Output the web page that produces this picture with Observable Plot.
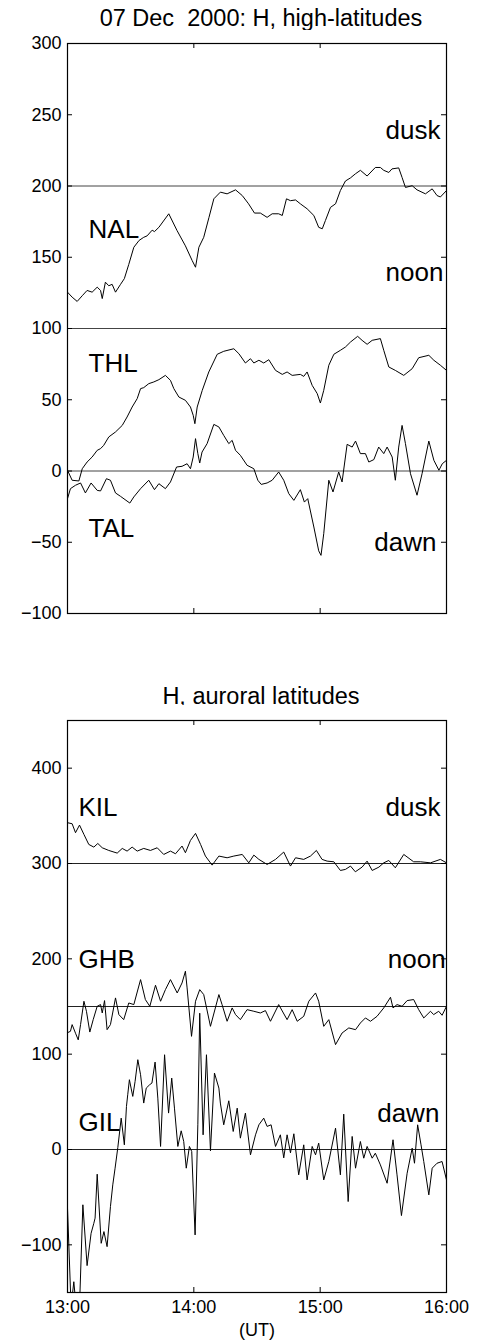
<!DOCTYPE html>
<html><head><meta charset="utf-8">
<script src="https://cdn.jsdelivr.net/npm/d3@7"></script>
<script src="https://cdn.jsdelivr.net/npm/@observablehq/plot@0.6"></script>
<style>
body{margin:0;background:#fff;font-family:"Liberation Sans",Arial,sans-serif;}
#wrap{position:relative;width:477px;height:1341px;overflow:hidden;}
.title{position:absolute;left:0;width:477px;box-sizing:border-box;padding-left:45px;text-align:center;font-size:23.5px;line-height:24px;white-space:pre;color:#000;}
.panel{position:absolute;left:0;}
</style></head><body>
<div id="wrap">
<div class="title" style="top:6px">07 Dec  2000: H, high-latitudes</div>
<div class="panel" id="p1" style="top:30px"></div>
<div class="title" style="top:684px">H, auroral latitudes</div>
<div class="panel" id="p2" style="top:705px"></div>
</div>
<script>
// time in minutes after 13:00 UT, H values (nT, offset)
const xTicks = [0, 60, 120, 180];
const xTickLabels = ["13:00", "14:00", "15:00", "16:00"];
const ticksTop = [-100, -50, 0, 50, 100, 150, 200, 250, 300];
const ticksBottom = [-100, 0, 100, 200, 300, 400];
const baselinesTop = [200, 100, 0];
const baselinesBottom = [300, 150, 0];

const NAL = [[0,125.5],[2.2,122],[4.6,119],[7,123],[9.3,126.7],[11.7,125.5],[14.1,129],[15.7,126.7],[16.5,121],[18,132.5],[19.6,130],[21.2,131],[22.8,125.5],[25.2,131],[27,135],[29.1,145],[31.5,157],[34,161.8],[36.2,164],[37.8,165],[40.2,169],[41.3,168],[43.4,171],[48.1,180.5],[52,168.8],[56,158],[59.2,147.7],[60.8,143],[62.4,157],[64.7,164],[67.2,178],[69.5,191],[72.6,195.7],[75.8,194.5],[79.8,197.3],[83,193.3],[86,187.5],[88.8,181],[91.6,181],[94.8,178],[97.2,180.5],[100.3,180.5],[102,179.3],[104,191],[105.9,189.7],[108.3,190.2],[110.6,187.5],[113.8,184],[117,179.3],[119.3,171],[121,170],[122.5,175.8],[124.9,185],[127.3,187.5],[129.6,196.8],[132,203.5],[134.4,205.7],[136.7,208.5],[139.1,211],[142.3,207],[146.2,213],[148.6,213],[150.2,211],[152.6,209.5],[154.1,212],[157.3,212.7],[158.9,206],[160.5,199],[163.7,200.2],[166,197.3],[170,194.5],[173.2,198],[175.5,193.3],[177.1,192.3],[180,196.8]];

const THL = [[0,0.5],[2.2,-6.5],[5.4,-7],[7,1.6],[9.3,6.3],[11.7,9.8],[14.1,14.5],[15.7,15.7],[17.2,18],[19.6,23.9],[22.8,27.4],[26,32],[28.3,37.9],[30.7,44.9],[33.1,50.8],[34.7,57.8],[36.2,58.5],[38.6,61.3],[41,62.5],[43.4,64.1],[46.5,67.1],[48.9,63.6],[50.5,57.8],[52.9,51.9],[56,49.6],[58.4,44.9],[59.7,39.1],[60.5,33.2],[61.6,44.9],[64,56.6],[67.1,69.5],[71.1,81.9],[74.2,84],[79,85.8],[81.4,82.3],[84.5,75.8],[86.9,78.8],[88.5,75.8],[90.9,77.7],[93.2,75.8],[95.6,78.1],[98.8,70.6],[102,67.8],[104.3,69.5],[106.7,67.1],[110.6,67.8],[112.2,66.4],[113.8,69.5],[116.2,60.1],[118.6,54.3],[120.1,47.7],[121.7,56.6],[124.1,74.2],[126.5,81.9],[129.6,84.7],[132,87],[134.4,90.5],[137.8,94.5],[139.9,91.7],[142.3,88.9],[144.7,91.7],[148.6,92.9],[150.2,84.7],[152.6,73],[155.7,70.6],[159.7,67.1],[163.7,71.8],[166.8,79.5],[171.6,81.2],[174,77.7],[177.1,74.2],[180,70.6]];

const TAL = [[0,-19.4],[1.4,-12.4],[3.8,-10],[6.2,-8.4],[8.5,-15.4],[11.2,-8.4],[14.1,-13.6],[15.7,-14],[18.5,-5.4],[20.4,-6.5],[22.8,-15.4],[25.2,-17.8],[29.6,-22.5],[31.5,-18.2],[34.7,-12.4],[38.6,-6.5],[41.3,-13.1],[43.4,-8.9],[46.5,-12.4],[48.9,-7.7],[51.8,2.8],[54.4,3.3],[56.8,5.1],[58.4,1.6],[59.7,9.8],[60.8,22.7],[61.9,12.2],[62.8,5.6],[63.9,13.3],[66.3,19.2],[69.5,32.7],[71.9,30.9],[74.2,25],[76.6,19.2],[78.2,21.5],[79.8,14.5],[82.1,11],[85.3,4],[88.5,1.6],[90.4,-6.5],[92,-9.4],[94.8,-8.4],[97.2,-6.5],[100.3,-0.7],[102.7,-6.5],[105.1,-15.9],[107.5,-20.6],[110.6,-13.1],[112.5,-21.8],[114.1,-19.4],[117,-39.3],[119.3,-56],[120.4,-59.2],[121.7,-44],[124.1,-6.5],[126.1,-14.7],[128.8,-0.7],[130.4,-7.7],[132.8,18.7],[135.2,16.8],[136.8,21],[139.1,12.2],[141.5,12.2],[143.1,6.3],[145.5,8],[147.8,16.8],[150.2,12.2],[151.8,16.8],[154.2,9.8],[155.7,-6.5],[157.3,16.8],[158.9,32],[160.5,19.2],[162.9,-1.9],[166,-17],[168.4,-1.9],[171.6,21],[174,7.5],[176.4,0.5],[178,5.1],[180,7.5]];

const KIL = [[0,342.8],[2.2,341.7],[3.8,332.3],[5.7,340.3],[7.8,330.5],[10.1,320],[12.5,317.2],[14.4,321],[16.5,316.5],[19.6,313.7],[23.6,310.9],[26,315.8],[28.3,313],[30.7,317.2],[33.1,313],[36.2,315.8],[39.4,313.7],[42.6,316.5],[45.7,309.5],[48.9,313],[51.3,310.2],[54.4,318.3],[56,311.3],[58.4,324.2],[60.8,331.6],[63.2,320],[65.5,307.8],[68.7,298.3],[71.9,307.8],[75.8,306],[79,307.8],[83,309.5],[86.1,300.7],[88.5,308.8],[90.9,304.3],[94.8,299],[98.8,304.3],[102.7,312],[105.9,297.3],[108.3,306],[112.2,304.3],[115.4,307.8],[118.2,313.7],[120.9,304.3],[123.3,302.5],[126.5,301.8],[129.6,292.7],[132,293.8],[134.4,297.3],[136.7,291.3],[139.9,296.2],[142.3,302.5],[144.7,292.7],[147.9,296.2],[150.2,300.7],[152.6,303.2],[155.7,295.5],[159.7,309.5],[164.4,301.8],[167.6,301.8],[172.4,300.7],[177.1,304.3],[180,300.7]];

const GHB = [[0,122.5],[1.4,124],[2.2,131],[3.8,122],[5.1,115],[6.2,131],[7.8,155.5],[9,145],[10.6,123.2],[12.2,136.2],[14.1,150.2],[15.7,152],[16.5,143.2],[17.6,156.2],[18.8,125.7],[20.4,131],[22.8,159],[24.4,141.5],[26.7,136.2],[29.1,153.7],[31.5,152],[34.7,178.2],[37,157.2],[39.1,150.2],[41.8,172.3],[44.2,155.5],[46.5,167.7],[48.9,178.2],[52.1,164.2],[54.4,174.7],[56,187],[56.8,169.5],[58.9,118.7],[60.8,155.5],[62.8,167.7],[64.7,162.5],[67.9,129.2],[71.9,162.5],[73.4,152],[75.8,134.5],[78.2,148.5],[79.8,141.5],[82.1,136.2],[85.3,146.7],[88.5,145],[91.6,143.2],[94,145.7],[96.4,134.5],[100.3,152],[104.3,136.2],[106.7,146.7],[109.1,134.5],[112.2,139.7],[114.6,155.5],[117.8,164.2],[119.3,155.5],[121.7,129.2],[124.1,136.2],[127.3,110],[130.4,122.2],[133.6,127.5],[136.8,125.7],[139.1,132.7],[141.5,138],[143.9,134.5],[147,139.7],[150.2,148.5],[153.4,159.7],[154.6,148.5],[156.5,152],[158.9,150.2],[161.3,156.2],[164.4,157.3],[166.8,146.7],[169.2,138],[172.4,145],[173.9,141.5],[176.3,145],[177.9,140.8],[180,150.2]];

const GIL = [[0,-61.6],[1.7,-165],[3,-138.7],[4.1,-165],[5.7,-165],[7.3,-58],[9.3,-121.8],[11.2,-87.9],[12.5,-77.4],[13.1,-72],[14.1,-25.9],[16,-98.4],[17.3,-86.1],[18.8,-101.9],[20.4,-59.9],[21.5,-37.1],[22.6,-19.6],[23.9,2.1],[25.5,32.9],[27,4.9],[28,45.2],[28.6,57.4],[29.4,73.2],[30.2,64.4],[31,55.7],[32.1,71.4],[33.4,94.2],[34.7,78.4],[36.2,48.7],[37.4,64.4],[39,67.9],[40.1,69.7],[41.6,91.7],[42.9,53.9],[44.2,3.2],[46.1,99.4],[48,38.2],[49.5,74.9],[50.8,43.4],[52.4,3.2],[54,19.6],[55.2,8.4],[56.4,-19.6],[57.9,3.2],[59,-2.1],[60.6,-89.6],[61.9,25.9],[62.8,143],[64.4,15.4],[66,99.4],[67.9,-1.4],[69.8,80.2],[71.9,64.4],[72.6,48.7],[74.2,25.9],[76.6,51.1],[78.7,18.9],[80.6,43.4],[82.1,11.9],[84.5,38.2],[86.9,-5.6],[89.3,15.4],[90.9,25.9],[93.2,32.9],[94.8,24.2],[96.7,25.9],[98.8,3.2],[101.1,15.4],[102.7,-8.8],[104.3,15.4],[105.9,-3.5],[107.5,16.5],[109.8,-26.6],[112.2,4.9],[113.8,-31.9],[116.2,3.2],[117.8,-5.6],[119.3,6.7],[121.7,-31.9],[124.1,-12.6],[127.3,22.4],[129.6,-26.6],[131.2,37.1],[133.3,-54.6],[135.2,13.7],[136.8,-19.6],[139.1,8.4],[140.7,-9.1],[142.3,3.2],[144.7,-9.1],[146.2,-3.9],[148.6,-16.1],[151.8,-35.4],[154.6,10.2],[156.5,-26.6],[158.6,-69.3],[161.3,-24.9],[163.7,1.4],[164.8,-14.4],[166.3,25.9],[167.9,4.9],[169.2,-12.6],[171.6,-47.6],[173.2,-19.6],[175.5,-14.4],[177.9,-12.6],[180,-31.9]];

const fmt = d => d < 0 ? "\u2212" + Math.abs(d) : String(d);
const W = 477, ML = 67, MR = 31;
const PW = W - ML - MR;
const FONT = "'Liberation Sans', Arial, sans-serif";

function lineOf(data) {
  return Plot.line(data, {x: d => d[0], y: d => d[1], stroke: "#000", strokeWidth: 1, clip: true});
}
function inwardTicks(yTicks, PH) {
  return [
    Plot.ruleY(yTicks, {stroke: "#000", insetRight: PW - 5}),
    Plot.ruleY(yTicks, {stroke: "#000", insetLeft: PW - 5}),
    Plot.ruleX(xTicks, {stroke: "#000", insetTop: PH - 5}),
    Plot.ruleX(xTicks, {stroke: "#000", insetBottom: PH - 5})
  ];
}
function labels(items) {
  return [
    Plot.text(items.filter(d => d.a === "start"), {x: "t", y: "v", text: "s", textAnchor: "start", fontSize: 26, fill: "#000"}),
    Plot.text(items.filter(d => d.a === "end"), {x: "t", y: "v", text: "s", textAnchor: "end", fontSize: 26, fill: "#000"})
  ];
}

// Top panel
{
  const H = 600, MT = 13, MB = 17;
  const PH = H - MT - MB;
  const chart = Plot.plot({
    width: W, height: H,
    marginLeft: ML, marginRight: MR, marginTop: MT, marginBottom: MB,
    style: {fontFamily: FONT, fontSize: "18px", background: "#fff", color: "#000", overflow: "visible"},
    x: {domain: [0, 180], axis: null},
    y: {domain: [-100, 300]},
    marks: [
      Plot.ruleY(baselinesTop, {stroke: "#444", strokeWidth: 1}),
      lineOf(NAL), lineOf(THL), lineOf(TAL),
      ...inwardTicks(ticksTop, PH),
      Plot.axisY(ticksTop, {anchor: "left", tickSize: 0, tickPadding: 6, tickFormat: fmt, fontSize: 18, label: null}),
      ...labels([
        {s: "NAL", t: 10, v: 169.5, a: "start"},
        {s: "dusk", t: 177.1, v: 239, a: "end"},
        {s: "noon", t: 178.5, v: 139, a: "end"},
        {s: "THL", t: 10, v: 75, a: "start"},
        {s: "TAL", t: 10, v: -40.5, a: "start"},
        {s: "dawn", t: 175.2, v: -50.5, a: "end"}
      ]),
      Plot.frame({stroke: "#000", strokeWidth: 1.2})
    ]
  });
  document.getElementById("p1").appendChild(chart);
}

// Bottom panel
{
  const H = 636, MT = 15, MB = 49;
  const PH = H - MT - MB;
  const chart = Plot.plot({
    width: W, height: H,
    marginLeft: ML, marginRight: MR, marginTop: MT, marginBottom: MB,
    style: {fontFamily: FONT, fontSize: "18px", background: "#fff", color: "#000", overflow: "visible"},
    x: {domain: [0, 180]},
    y: {domain: [-150, 450]},
    marks: [
      Plot.ruleY(baselinesBottom, {stroke: "#222", strokeWidth: 1}),
      lineOf(KIL), lineOf(GHB), lineOf(GIL),
      ...inwardTicks(ticksBottom, PH),
      Plot.axisY(ticksBottom, {anchor: "left", tickSize: 0, tickPadding: 6, tickFormat: fmt, fontSize: 18, label: null}),
      Plot.axisX(xTicks, {anchor: "bottom", tickSize: 0, tickPadding: 8, tickFormat: d => xTickLabels[xTicks.indexOf(d)], fontSize: 18, label: null}),
      Plot.text(["(UT)"], {frameAnchor: "bottom", dy: 43, fontSize: 18, fill: "#000"}),
      ...labels([
        {s: "KIL", t: 5.2, v: 358.5, a: "start"},
        {s: "dusk", t: 177.1, v: 358.5, a: "end"},
        {s: "GHB", t: 5.2, v: 199, a: "start"},
        {s: "noon", t: 179.6, v: 199, a: "end"},
        {s: "GIL", t: 5.2, v: 28.4, a: "start"},
        {s: "dawn", t: 176.6, v: 38, a: "end"}
      ]),
      Plot.frame({stroke: "#000", strokeWidth: 1.2})
    ]
  });
  document.getElementById("p2").appendChild(chart);
}
</script>
</body></html>
